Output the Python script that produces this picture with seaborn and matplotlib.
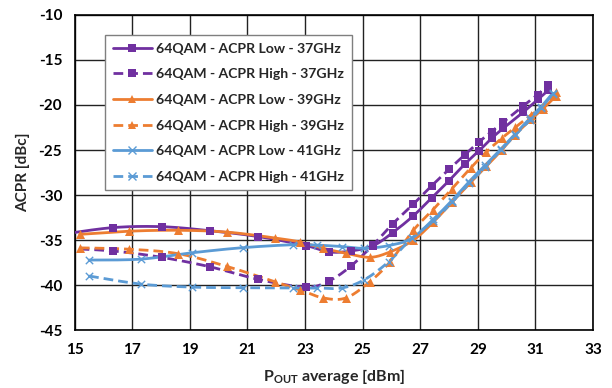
import numpy as np
import pandas as pd
import matplotlib
matplotlib.use("Agg")
import matplotlib.pyplot as plt
import seaborn as sns
from matplotlib.lines import Line2D

# ---------------- data ----------------
x_37 = [14.66, 16.34, 18.02, 19.70, 21.38, 23.03, 23.84, 24.58, 25.37, 26.04, 26.76,
        27.40, 28.00, 28.55, 29.04, 29.48, 29.88, 30.58, 31.08, 31.44]
acpr_low_37 = [-34.3, -33.6, -33.5, -33.95, -34.6, -35.6, -36.3, -36.2, -35.6, -34.17, -32.3,
               -30.3, -28.4, -26.55, -25.1, -23.7, -22.6, -20.8, -19.4, -18.4]
acpr_high_37 = [-35.9, -36.2, -36.9, -37.95, -39.35, -40.2, -39.5, -37.9, -35.5, -33.2, -31.0,
                -28.96, -27.14, -25.52, -24.11, -22.95, -21.9, -20.1, -18.85, -17.8]

x_39 = [15.18, 16.90, 18.60, 20.28, 21.95, 22.82, 23.63, 24.42, 25.25, 25.95, 26.76,
        27.45, 28.10, 28.75, 29.30, 29.83, 30.30, 30.85, 31.27, 31.72]
acpr_low_39 = [-34.35, -34.0, -33.9, -34.1, -34.75, -35.2, -35.9, -36.45, -36.9, -36.3, -35.0,
               -33.0, -30.8, -28.6, -26.8, -25.0, -23.3, -21.6, -20.4, -19.0]
acpr_high_39 = [-35.85, -36.0, -36.5, -37.9, -39.6, -40.5, -41.4, -41.4, -39.6, -37.4, -33.9,
                -31.6, -29.3, -27.0, -25.2, -23.7, -22.5, -21.1, -20.2, -18.6]

x_41 = [15.50, 17.29, 19.06, 20.83, 22.59, 23.43, 24.27, 25.05, 25.90, 26.70, 27.45,
        28.10, 28.70, 29.25, 29.80, 30.30, 30.80, 31.20, 31.60]
acpr_low_41 = [-37.2, -37.1, -36.4, -35.83, -35.5, -35.55, -35.7, -35.9, -35.6, -34.8, -32.7,
               -30.6, -28.5, -26.7, -24.9, -23.2, -21.5, -20.2, -18.7]
acpr_high_41 = [-38.97, -39.86, -40.2, -40.27, -40.3, -40.3, -40.3, -39.4, -37.4, -34.8, -32.9,
                -30.8, -28.7, -26.9, -25.0, -23.35, -21.7, -20.35, -18.8]

labels = ["64QAM - ACPR Low - 37GHz", "64QAM - ACPR High - 37GHz",
          "64QAM - ACPR Low - 39GHz", "64QAM - ACPR High - 39GHz",
          "64QAM - ACPR Low - 41GHz", "64QAM - ACPR High - 41GHz"]
x_ticks = [15, 17, 19, 21, 23, 25, 27, 29, 31, 33]
y_ticks = [-10, -15, -20, -25, -30, -35, -40, -45]

# ---------------- styles ----------------
purple, orange, blue = "#7030A0", "#ED7D31", "#5B9BD5"
series = [
    (x_37, acpr_low_37, purple, "-", "s"),
    (x_37, acpr_high_37, purple, "--", "s"),
    (x_39, acpr_low_39, orange, "-", "^"),
    (x_39, acpr_high_39, orange, "--", "^"),
    (x_41, acpr_low_41, blue, "-", "x"),
    (x_41, acpr_high_41, blue, "--", "x"),
]


def smooth(xs, ys, n=20):
    """Excel-like smoothed line (cubic Bezier, Catmull-Rom control points)."""
    P = np.column_stack([xs, ys]).astype(float)
    m = len(P)
    out = [P[0]]
    t = np.linspace(0, 1, n + 1)[1:][:, None]
    for i in range(m - 1):
        p0 = P[i - 1] if i > 0 else P[i]
        p1, p2 = P[i], P[i + 1]
        p3 = P[i + 2] if i + 2 < m else P[i + 1]
        c1 = p1 + (p2 - p0) / 6.0
        c2 = p2 - (p3 - p1) / 6.0
        seg = ((1 - t) ** 3) * p1 + 3 * ((1 - t) ** 2) * t * c1 + 3 * (1 - t) * t ** 2 * c2 + t ** 3 * p2
        out.extend(seg)
    out = np.array(out)
    return out[:, 0], out[:, 1]


sns.set_theme(style="white")
plt.rcParams["font.family"] = ["Lato", "DejaVu Sans"]
plt.rcParams["font.weight"] = "bold"
plt.rcParams["axes.unicode_minus"] = False
plt.rcParams["mathtext.fontset"] = "custom"
plt.rcParams["mathtext.rm"] = "Lato:bold"
plt.rcParams["mathtext.bf"] = "Lato:bold"
plt.rcParams["mathtext.it"] = "Lato:bold"

fig = plt.figure(figsize=(6.12, 3.88), dpi=100)
ax = fig.add_axes([74.7 / 612, 1 - 330.4 / 388, (593 - 74.7) / 612, (330.4 - 14.7) / 388])

lw = 2.0
handles = []
for (xs, ys, col, ls, mk), lab in zip(series, labels):
    sx, sy = smooth(xs, ys)
    df_s = pd.DataFrame({"x": sx, "y": sy})
    sns.lineplot(data=df_s, x="x", y="y", sort=False, ax=ax, color=col, lw=lw,
                 linestyle=ls, estimator=None, legend=False, zorder=3)
    if ls == "--":
        ax.lines[-1].set_dashes((3.5, 1.8))
    df_p = pd.DataFrame({"x": xs, "y": ys})
    if mk == "x":
        sns.scatterplot(data=df_p, x="x", y="y", ax=ax, marker="x", color=col, s=28,
                        linewidth=1.0, legend=False, zorder=4)
    else:
        ms = 40 if mk == "s" else 42
        sns.scatterplot(data=df_p, x="x", y="y", ax=ax, marker=mk, color=col, s=ms,
                        linewidth=0, legend=False, zorder=4)
    h = Line2D([], [], color=col, lw=lw, linestyle=ls, marker=mk,
               markersize=6, markeredgewidth=1.0 if mk == "x" else 0,
               markerfacecolor=col, markeredgecolor=col)
    if ls == "--":
        h.set_dashes((3.5, 1.8))
    handles.append(h)

ax.set_xlim(15, 33)
ax.set_ylim(-45, -10)
ax.set_xticks(x_ticks)
ax.set_yticks(y_ticks)
ax.set_xticklabels([str(v) for v in x_ticks], fontsize=11, fontweight="bold")
ax.set_yticklabels([str(v) for v in y_ticks], fontsize=11, fontweight="bold")
ax.tick_params(axis="both", length=0, pad=9, colors="black")
ax.grid(True, color="#222222", lw=1.0, zorder=0)
ax.set_axisbelow(True)
for sp in ax.spines.values():
    sp.set_color("black")
    sp.set_linewidth(1.2)

ax.set_xlabel(r"P$_{\mathrm{OUT}}$ average [dBm]", fontsize=11.5, fontweight="bold", labelpad=7)
ax.set_ylabel("ACPR [dBc]", fontsize=11, fontweight="bold", labelpad=6)

leg = ax.legend(handles, labels, loc="upper left", bbox_to_anchor=(0.0585, 0.9357),
                borderaxespad=0, frameon=True, fancybox=False, shadow=False,
                prop={"family": "Lato", "weight": "bold", "size": 10.1},
                handlelength=2.8, handletextpad=0.3, labelspacing=0.97,
                borderpad=0.55)
leg.get_frame().set_edgecolor("#7f7f7f")
leg.get_frame().set_linewidth(1.0)
leg.get_frame().set_alpha(1)
leg.set_zorder(10)

fig.savefig("out.png", dpi=100)
